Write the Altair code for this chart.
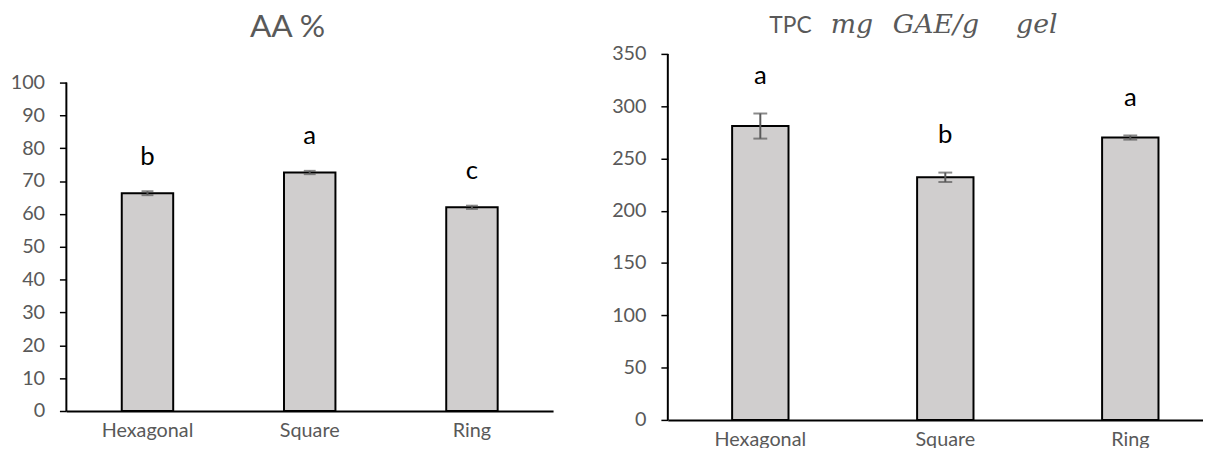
import altair as alt
import pandas as pd

# ---- data ----
shapes = ["Hexagonal", "Square", "Ring"]

aa_mean = [66.3, 72.6, 62.0]
aa_err = [0.6, 0.5, 0.5]
aa_letters = ["b", "a", "c"]
aa_ticks = list(range(0, 101, 10))
aa_title = "AA %"

tpc_mean = [281.0, 232.0, 270.0]
tpc_err = [12.0, 4.5, 2.0]
tpc_letters = ["a", "b", "a"]
tpc_ticks = list(range(0, 351, 50))
tpc_title_plain = "TPC"
tpc_title_math = ["mg", "GAE/g", "gel"]

GREY = "#595959"
FONT = "Lato"


def panel(mean, err, letters, ticks, top, bar_w, cap_w, label_dy, xpad):
    df = pd.DataFrame({
        "shape": shapes,
        "mean": mean,
        "lo": [m - e for m, e in zip(mean, err)],
        "hi": [m + e for m, e in zip(mean, err)],
        "letter": letters,
    })
    x = alt.X("shape:N", sort=shapes,
              scale=alt.Scale(paddingInner=0, paddingOuter=0),
              axis=alt.Axis(title=None, ticks=False, labelAngle=0, labelPadding=xpad,
                            domainColor="black", domainWidth=2,
                            labelColor=GREY, labelFont=FONT, labelFontSize=20))
    yaxis = alt.Axis(title=None, values=ticks, grid=False, domain=False,
                     tickColor="black", tickWidth=1.5, tickSize=7,
                     labelPadding=15, labelColor=GREY, labelFont=FONT, labelFontSize=20)
    yscale = alt.Scale(domain=[ticks[0], top], nice=False)
    base = alt.Chart(df)
    axis_df = pd.DataFrame({"y0": [ticks[0]], "y1": [ticks[-1]]})
    yline = alt.Chart(axis_df).mark_rule(color="black", strokeWidth=2).encode(
        x=alt.value(0), y=alt.Y("y0:Q", scale=yscale, axis=yaxis), y2="y1:Q")
    bars = base.mark_bar(size=bar_w, fill="#D0CECE", stroke="black", strokeWidth=2).encode(
        x=x, y=alt.Y("mean:Q", scale=yscale, axis=yaxis))
    rule = base.mark_rule(color=GREY, strokeWidth=2).encode(
        x=x, y=alt.Y("lo:Q", scale=yscale, axis=yaxis), y2="hi:Q")
    cap_hi = base.mark_tick(size=cap_w, thickness=2, color=GREY).encode(
        x=x, y=alt.Y("hi:Q", scale=yscale, axis=yaxis))
    cap_lo = base.mark_tick(size=cap_w, thickness=2, color=GREY).encode(
        x=x, y=alt.Y("lo:Q", scale=yscale, axis=yaxis))
    text = base.mark_text(font=FONT, fontSize=26, color="black", baseline="alphabetic",
                          dy=-label_dy).encode(
        x=x, y=alt.Y("hi:Q", scale=yscale, axis=yaxis), text="letter:N")
    return [bars, yline, rule, cap_hi, cap_lo, text]


# left panel: plot frame top shared with the right panel; 100 sits lower than the frame top
left_layers = panel(aa_mean, aa_err, aa_letters, aa_ticks, 108.7, 52, 12, 27, 10)
left = alt.layer(*left_layers).properties(
    width=492, height=361,
    title=alt.Title(aa_title, font=FONT, fontSize=32, color=GREY, fontWeight="normal",
                    anchor="middle", frame="bounds", offset=10, dx=6))

right_layers = panel(tpc_mean, tpc_err, tpc_letters, tpc_ticks, 350, 57, 14, 30, 10)
t_plain = alt.Chart(pd.DataFrame({"t": [tpc_title_plain]})).mark_text(
    font=FONT, fontSize=23, color=GREY, align="center", baseline="alphabetic").encode(
    text="t:N", x=alt.value(124), y=alt.value(-21))
math_x = [186, 271, 373]
math_layers = []
for word, xp in zip(tpc_title_math, math_x):
    math_layers.append(
        alt.Chart(pd.DataFrame({"t": [word]})).mark_text(
            font="DejaVu Serif", fontStyle="italic", fontSize=27, color=GREY,
            align="center", baseline="alphabetic").encode(
            text="t:N", x=alt.value(xp), y=alt.value(-21)))
right = alt.layer(*right_layers, t_plain, *math_layers).properties(width=561, height=370)

chart = alt.hconcat(left, right, spacing=59, bounds="full").properties(
    padding={"left": 2, "top": 1, "right": -20, "bottom": -4}
).configure_view(stroke=None)

chart.save("out.html", embed_options={"renderer": "svg", "actions": False})
